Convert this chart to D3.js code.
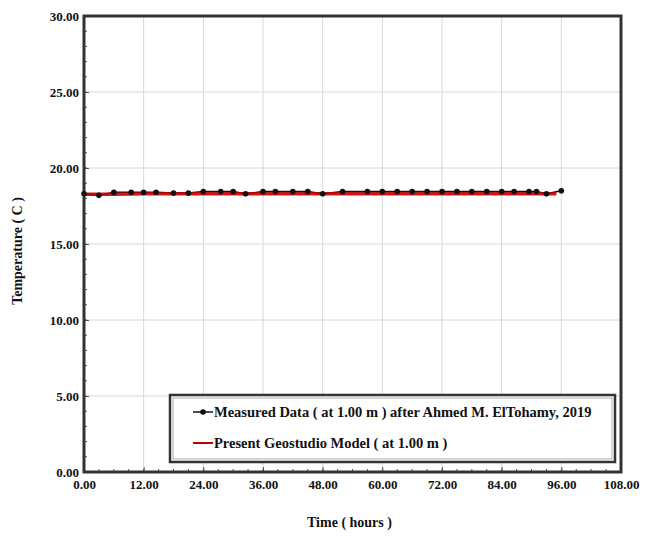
<!DOCTYPE html>
<html><head><meta charset="utf-8">
<script src="https://cdn.jsdelivr.net/npm/d3@7"></script>
<style>body{margin:0;background:#fff}</style>
</head><body>
<svg id="c" width="652" height="536"></svg>
<script>
const measuredTime = [0,3,6,9.5,12,14.5,18,21,24,27.5,30,32.5,36,38.5,42,45,48,52,57,60,63,66,69,72,75,78,81,84,86.5,89.5,91,93,96];
const measuredTemp = [18.3,18.2,18.4,18.4,18.4,18.4,18.35,18.35,18.45,18.45,18.45,18.3,18.45,18.45,18.45,18.45,18.3,18.45,18.45,18.45,18.45,18.45,18.45,18.45,18.45,18.45,18.45,18.45,18.45,18.45,18.45,18.3,18.5];
const modelTime = [0,6,12,18,24,30,36,42,48,54,60,66,72,78,84,90,95];
const modelTemp = [18.28,18.28,18.3,18.3,18.3,18.3,18.3,18.3,18.3,18.3,18.3,18.3,18.3,18.3,18.3,18.3,18.3];
const xTicks = [0,12,24,36,48,60,72,84,96,108];
const yTicks = [0,5,10,15,20,25,30];
const legendLabels = ["Measured Data ( at 1.00 m ) after Ahmed M. ElTohamy, 2019","Present Geostudio Model ( at 1.00 m )"];

const svg = d3.select("#c");
const L=84,R=621,T=16,B=472;
const x = d3.scaleLinear().domain([0,108]).range([L,R]);
const y = d3.scaleLinear().domain([0,30]).range([B,T]);
const font = "'Liberation Serif','Times New Roman',serif";

// grid
svg.append("g").selectAll("line").data(xTicks.slice(1,-1)).join("line")
  .attr("x1",d=>x(d)).attr("x2",d=>x(d)).attr("y1",T).attr("y2",B)
  .attr("stroke","#d8d8d8").attr("stroke-width",1);
svg.append("g").selectAll("line").data(yTicks.slice(1,-1)).join("line")
  .attr("x1",L).attr("x2",R).attr("y1",d=>y(d)).attr("y2",d=>y(d))
  .attr("stroke","#d8d8d8").attr("stroke-width",1);

// axes with inward ticks
const xAxis = d3.axisBottom(x).tickValues(xTicks).tickSize(-5).tickFormat(d3.format(".2f"));
const yAxis = d3.axisLeft(y).tickValues(yTicks).tickSize(-5).tickFormat(d3.format(".2f"));
const gx = svg.append("g").attr("transform",`translate(0,${B})`).call(xAxis);
const gy = svg.append("g").attr("transform",`translate(${L},0)`).call(yAxis);
// minor ticks
const xMinor = d3.range(0,108.01,3);
const yMinor = d3.range(0,30.01,1);
svg.append("g").selectAll("line").data(xMinor).join("line")
  .attr("x1",d=>x(d)).attr("x2",d=>x(d)).attr("y1",B).attr("y2",B-3).attr("stroke","#555");
svg.append("g").selectAll("line").data(yMinor).join("line")
  .attr("x1",L).attr("x2",L+3).attr("y1",d=>y(d)).attr("y2",d=>y(d)).attr("stroke","#555");
[gx,gy].forEach(g=>{
  g.select(".domain").remove();
  g.selectAll(".tick line").attr("stroke","#555");
  g.selectAll("text").attr("font-family",font).attr("font-weight","bold").attr("font-size",13).attr("fill","#111");
});
gx.selectAll("text").attr("dy","1.1em");
gy.selectAll("text").attr("dx","-0.15em");

// frame
svg.append("rect").attr("x",L).attr("y",T).attr("width",R-L).attr("height",B-T)
  .attr("fill","none").attr("stroke","#333").attr("stroke-width",3);

// lines
const line = d3.line().x(d=>x(d[0])).y(d=>y(d[1]));
const model = modelTime.map((t,i)=>[t,modelTemp[i]]);
const meas = measuredTime.map((t,i)=>[t,measuredTemp[i]]);
svg.append("path").datum(meas).attr("d",line).attr("fill","none").attr("stroke","#111").attr("stroke-width",1.5);
svg.append("path").datum(model).attr("d",line).attr("fill","none").attr("stroke","#c00000").attr("stroke-width",3.5).attr("opacity",0.9);
svg.append("g").selectAll("circle").data(meas).join("circle")
  .attr("cx",d=>x(d[0])).attr("cy",d=>y(d[1])).attr("r",2.8).attr("fill","#111");

// legend
const lg = svg.append("g");
lg.append("rect").attr("x",170).attr("y",395).attr("width",445).attr("height",67)
  .attr("fill","#fff").attr("stroke","#333").attr("stroke-width",2.5);
lg.append("rect").attr("x",173).attr("y",398).attr("width",439).attr("height",61)
  .attr("fill","none").attr("stroke","#999").attr("stroke-width",0.8);
const ly=[412,443];
lg.append("line").attr("x1",193).attr("x2",213).attr("y1",ly[0]).attr("y2",ly[0]).attr("stroke","#111").attr("stroke-width",1.5);
lg.append("circle").attr("cx",203).attr("cy",ly[0]).attr("r",2.8).attr("fill","#111");
lg.append("line").attr("x1",193).attr("x2",213).attr("y1",ly[1]).attr("y2",ly[1]).attr("stroke","#c00000").attr("stroke-width",2);
lg.selectAll("text").data(legendLabels).join("text")
  .attr("x",214).attr("y",(d,i)=>ly[i]+5).text(d=>d)
  .attr("font-family",font).attr("font-weight","bold").attr("font-size",14.5).attr("fill","#111");

// titles
svg.append("text").attr("x",(L+R)/2-3).attr("y",527).attr("text-anchor","middle").text("Time ( hours )")
  .attr("font-family",font).attr("font-weight","bold").attr("font-size",14).attr("fill","#111");
svg.append("text").attr("transform",`translate(22,251) rotate(-90)`).attr("text-anchor","middle").text("Temperature ( C )")
  .attr("font-family",font).attr("font-weight","bold").attr("font-size",14).attr("fill","#111");
</script>
</body></html>
